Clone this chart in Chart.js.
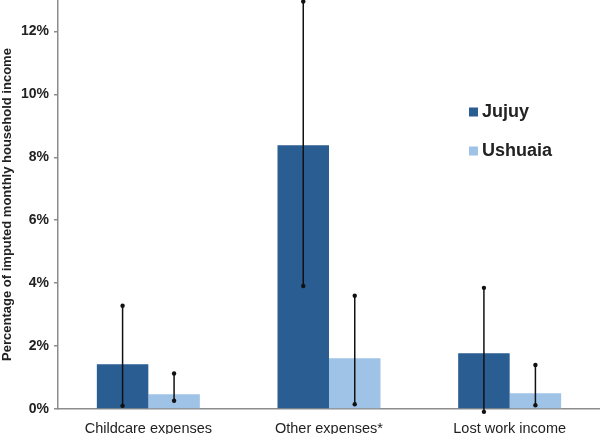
<!DOCTYPE html>
<html>
<head>
<meta charset="utf-8">
<script src="https://cdn.jsdelivr.net/npm/chart.js@4"></script>
<style>
  html, body { margin: 0; padding: 0; background: #fff; }
  #wrap { width: 600px; height: 434px; }
</style>
</head>
<body>
<div id="wrap"><canvas id="myChart" width="600" height="434"></canvas></div>
<script>
// categories and series
const categories = ['Childcare expenses', 'Other expenses*', 'Lost work income'];
const jujuy = [1.42, 8.38, 1.77];
const ushuaia = [0.47, 1.61, 0.50];
// error bar ends (lower / upper)
const jujuyLow = [0.10, 3.91, -0.09];
const jujuyHigh = [3.28, 12.95, 3.85];
const ushuaiaLow = [0.26, 0.15, 0.12];
const ushuaiaHigh = [1.13, 3.60, 1.40];
const yTicks = [0, 2, 4, 6, 8, 10, 12];

const darkBlue = '#2a5d92';
const lightBlue = '#9ec3e7';
const textColor = '#222';

// Error bars drawn on top of the bars
const errorBars = {
  id: 'errorBars',
  afterDatasetsDraw(chart) {
    const ctx = chart.ctx;
    const y = chart.scales.y;
    chart.data.datasets.forEach((ds, i) => {
      const meta = chart.getDatasetMeta(i);
      meta.data.forEach((bar, j) => {
        const y1 = y.getPixelForValue(ds.errLow[j]);
        const y2 = y.getPixelForValue(ds.errHigh[j]);
        ctx.save();
        ctx.strokeStyle = '#111';
        ctx.fillStyle = '#111';
        ctx.lineWidth = 1.5;
        ctx.beginPath();
        ctx.moveTo(bar.x, y1);
        ctx.lineTo(bar.x, y2);
        ctx.stroke();
        [y1, y2].forEach(py => {
          ctx.beginPath();
          ctx.arc(bar.x, py, 2.2, 0, Math.PI * 2);
          ctx.fill();
        });
        ctx.restore();
      });
    });
  }
};

// Legend inside the plot, top right
const insideLegend = {
  id: 'insideLegend',
  afterDraw(chart) {
    const ctx = chart.ctx;
    ctx.save();
    ctx.font = 'bold 18px "Liberation Sans", Arial, sans-serif';
    ctx.textBaseline = 'middle';
    chart.data.datasets.forEach((ds, i) => {
      const cy = 112 + i * 39;
      ctx.fillStyle = ds.backgroundColor;
      ctx.fillRect(469, cy - 4.5, 9, 9);
      ctx.fillStyle = textColor;
      ctx.fillText(ds.label, 482, cy);
    });
    ctx.restore();
  }
};

const ctx = document.getElementById('myChart').getContext('2d');
const myChart = new Chart(ctx, {
  type: 'bar',
  data: {
    labels: categories,
    datasets: [
      { label: 'Jujuy', data: jujuy, errLow: jujuyLow, errHigh: jujuyHigh, backgroundColor: darkBlue },
      { label: 'Ushuaia', data: ushuaia, errLow: ushuaiaLow, errHigh: ushuaiaHigh, backgroundColor: lightBlue }
    ]
  },
  options: {
    responsive: false,
    animation: false,
    layout: { padding: 0 },
    categoryPercentage: 0.57,
    barPercentage: 1,
    plugins: {
      legend: { display: false },
      tooltip: { enabled: false }
    },
    scales: {
      x: {
        grid: { display: false },
        border: { color: '#8c8c8c', width: 1.5 },
        ticks: {
          color: textColor,
          font: { family: '"Liberation Sans", Arial, sans-serif', size: 14.5 },
          padding: 3,
          maxRotation: 0
        },
        afterFit(scale) {
          scale.height = 25;
          scale.paddingLeft = 0;
          scale.paddingRight = 0;
        }
      },
      y: {
        min: 0,
        max: 13,
        grid: { drawOnChartArea: false, drawTicks: true, tickLength: 4, color: '#8c8c8c', lineWidth: 1.5 },
        border: { color: '#8c8c8c', width: 1.5 },
        ticks: {
          stepSize: 2,
          padding: 5,
          color: textColor,
          font: { family: '"Liberation Sans", Arial, sans-serif', size: 14, weight: 'bold' },
          callback: v => v + '%'
        },
        afterBuildTicks(scale) {
          scale.ticks = yTicks.map(v => ({ value: v }));
        },
        title: {
          display: true,
          text: 'Percentage of imputed monthly household income',
          color: textColor,
          font: { family: '"Liberation Sans", Arial, sans-serif', size: 13, weight: 'bold' },
          padding: { top: 0, bottom: 0 }
        },
        afterFit(scale) {
          scale.width = 58;
          scale.paddingTop = 0;
          scale.paddingBottom = 0;
        }
      }
    }
  },
  plugins: [errorBars, insideLegend]
});
</script>
</body>
</html>
